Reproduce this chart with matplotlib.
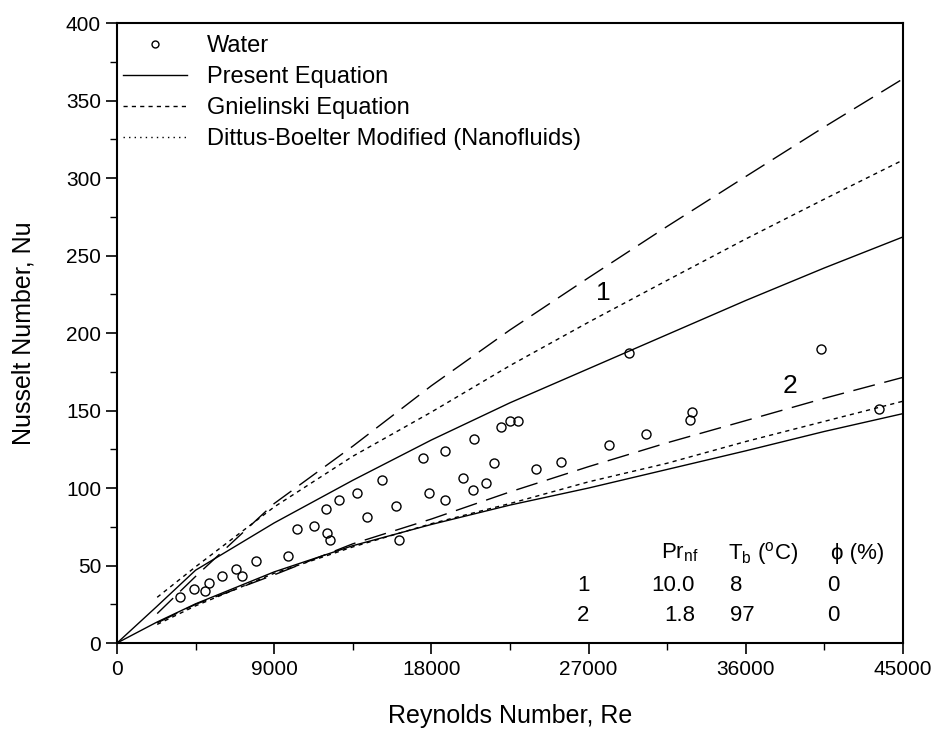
import matplotlib.pyplot as plt
from matplotlib.lines import Line2D
from matplotlib.ticker import MultipleLocator

plt.rcParams['font.family'] = ['Liberation Sans', 'DejaVu Sans']

# Water data points (Re, Nu)
water_re = [3578, 4420, 5050, 5280, 5983, 6813, 7139, 7958, 9807, 10288,
            11278, 11994, 12040, 12194, 12692, 13723, 14296, 15189, 15990, 16162,
            17501, 17845, 18795, 18795, 19809, 20364, 20455, 21108, 21600, 22001,
            22499, 22975, 23988, 25402, 28184, 29329, 30285, 32804, 32936, 40287,
            43625]
water_nu = [29.9, 34.6, 33.7, 38.9, 43.1, 47.5, 43.2, 52.7, 56.1, 73.4,
            75.8, 86.3, 71.2, 66.3, 92.1, 96.6, 81.1, 105.0, 88.4, 66.5,
            119.5, 96.6, 124.1, 92.3, 106.6, 98.7, 131.4, 103.4, 116.1, 139.5,
            143.4, 143.4, 112.1, 117.0, 127.7, 187.3, 134.8, 143.9, 149.2, 189.5,
            150.8]

# Present equation (solid), cases 1 and 2
re_present = [0, 2250, 4500, 9000, 13500, 18000, 22500, 27000, 31500, 36000, 40500, 45000]
present_1 = [0, 23.3, 47.0, 77.5, 105.0, 131.0, 155.0, 177.0, 199.0, 221.0, 242.0, 262.0]
present_2 = [0, 13.3, 25.3, 45.9, 62.8, 76.5, 89.0, 100.0, 112.0, 124.0, 136.5, 148.0]

# Gnielinski (short dash) and Dittus-Boelter modified (long dash)
re_corr = [2300, 4500, 9000, 13500, 18000, 22500, 27000, 31500, 36000, 40500, 45000]
gniel_1 = [29.5, 49.2, 87.8, 120.5, 149.0, 179.0, 207.0, 234.0, 260.7, 286.4, 311.6]
gniel_2 = [12.0, 24.0, 45.0, 62.0, 77.0, 90.0, 104.0, 116.0, 130.0, 143.0, 156.0]
dittus_1 = [19.0, 43.0, 90.0, 127.0, 166.0, 202.0, 235.7, 268.8, 301.0, 333.0, 364.0]
dittus_2 = [13.0, 25.0, 44.0, 64.0, 80.0, 97.5, 113.8, 129.2, 143.5, 157.9, 171.4]

fig = plt.figure(figsize=(9.4, 7.38), dpi=100)
ax = fig.add_axes([0.1245, 0.1287, 0.836, 0.840])

long_dash = (0, (16, 7))
short_dash = (0, (3, 3))

ax.plot(re_present, present_1, color='black', lw=1.0)
ax.plot(re_present, present_2, color='black', lw=1.0)
ax.plot(re_corr, gniel_1, color='black', lw=1.0, linestyle=short_dash)
ax.plot(re_corr, gniel_2, color='black', lw=1.0, linestyle=short_dash)
ax.plot(re_corr, dittus_1, color='black', lw=1.0, linestyle=long_dash)
ax.plot(re_corr, dittus_2, color='black', lw=1.0, linestyle=long_dash)
ax.plot(water_re, water_nu, linestyle='none', marker='o', markersize=6.5,
        markerfacecolor='none', markeredgecolor='black', markeredgewidth=1.0)

# case labels on the curves
ax.text(27824, 226, '1', fontsize=19, ha='center', va='center')
ax.text(38530, 166, '2', fontsize=19, ha='center', va='center')

# small table of conditions
fs = 16
ax.text(31144, 58, r'Pr$_{\mathregular{nf}}$', fontsize=fs, ha='left', va='center')
ax.text(35000, 58, r'T$_{\mathregular{b}}$ ($^{\mathregular{o}}$C)', fontsize=fs, ha='left', va='center')
ax.text(40900, 58, '\u03d5 (%)', fontsize=fs, ha='left', va='center')
ax.text(26700, 37, '1', fontsize=fs, ha='center', va='center')
ax.text(33100, 37, '10.0', fontsize=fs, ha='right', va='center')
ax.text(35100, 37, '8', fontsize=fs, ha='left', va='center')
ax.text(40650, 37, '0', fontsize=fs, ha='left', va='center')
ax.text(26700, 18, '2', fontsize=fs, ha='center', va='center')
ax.text(33100, 18, '1.8', fontsize=fs, ha='right', va='center')
ax.text(35100, 18, '97', fontsize=fs, ha='left', va='center')
ax.text(40650, 18, '0', fontsize=fs, ha='left', va='center')

handles = [
    Line2D([], [], linestyle='none', marker='o', markersize=5,
           markerfacecolor='none', markeredgecolor='black'),
    Line2D([], [], color='black', lw=1.0),
    Line2D([], [], color='black', lw=1.0, linestyle=short_dash),
    Line2D([], [], color='black', lw=1.0, linestyle=(0, (1, 3))),
]
labels = ['Water', 'Present Equation', 'Gnielinski Equation',
          'Dittus-Boelter Modified (Nanofluids)']
ax.legend(handles, labels, loc='upper left', bbox_to_anchor=(0.0076, 0.980),
          frameon=False, fontsize=17, handlelength=2.7, handletextpad=0.85,
          labelspacing=0.38, borderpad=0, borderaxespad=0)

ax.set_xlim(0, 45000)
ax.set_ylim(0, 400)
ax.xaxis.set_major_locator(MultipleLocator(9000))
ax.xaxis.set_minor_locator(MultipleLocator(4500))
ax.yaxis.set_major_locator(MultipleLocator(50))
ax.yaxis.set_minor_locator(MultipleLocator(25))
ax.tick_params(which='major', direction='out', length=8, width=1.2, labelsize=15)
ax.tick_params(which='minor', direction='out', length=5, width=1.0)
ax.tick_params(axis='x', pad=4)
for sp in ax.spines.values():
    sp.set_linewidth(1.5)

ax.set_xlabel('Reynolds Number, Re', fontsize=18, labelpad=18)
ax.set_ylabel('Nusselt Number, Nu', fontsize=18, labelpad=22)

fig.savefig('out.png', dpi=100)
